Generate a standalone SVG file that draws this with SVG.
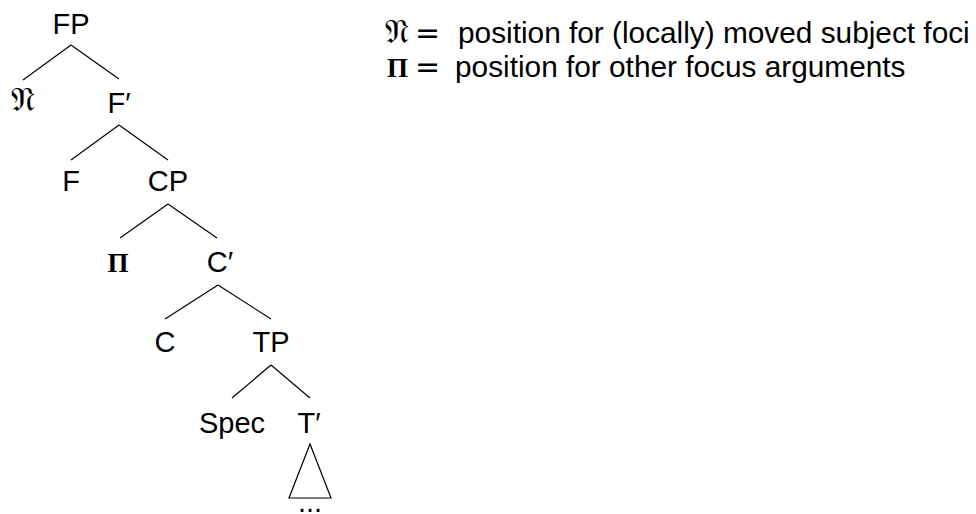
<svg xmlns="http://www.w3.org/2000/svg" width="976" height="514" viewBox="0 0 976 514">
<style>
  .n { font-family: "Liberation Sans", Arial, sans-serif; font-size: 29px; fill: #000; text-anchor: middle; }
  .t { font-family: "Liberation Sans", Arial, sans-serif; font-size: 29.8px; fill: #000; }
  .eq { font-family: "DejaVu Sans", sans-serif; font-size: 30px; fill: #000; }
  .frak { font-family: "DejaVu Serif", "DejaVu Sans", "Noto Sans", serif; font-size: 34px; fill: #000; }
  .pi { font-family: "Liberation Serif", "Times New Roman", serif; font-weight: bold; font-size: 27px; fill: #000; }
  .e { stroke: #000; stroke-width: 1.2; fill: none; }
</style>
<rect width="976" height="514" fill="#fff"/>
<g id="connectors">
  <line class="e" x1="71" y1="45" x2="23" y2="80"/>
  <line class="e" x1="71" y1="45" x2="119" y2="79"/>
  <line class="e" x1="119" y1="125" x2="71" y2="160"/>
  <line class="e" x1="119" y1="125" x2="168" y2="160"/>
  <line class="e" x1="168" y1="204" x2="120" y2="238"/>
  <line class="e" x1="168" y1="204" x2="217" y2="238"/>
  <line class="e" x1="218" y1="285" x2="165" y2="319"/>
  <line class="e" x1="218" y1="285" x2="271" y2="319"/>
  <line class="e" x1="271" y1="365" x2="232" y2="398"/>
  <line class="e" x1="271" y1="365" x2="310" y2="398"/>
  <polygon class="e" points="310,444 289,498 331,498"/>
</g>
<g id="node-FP"><text class="n" x="71" y="34">FP</text></g>
<g id="node-N"><text class="frak" x="23" y="111" text-anchor="middle">𝔑</text></g>
<g id="node-Fbar"><text class="n" x="119" y="113">F′</text></g>
<g id="node-F"><text class="n" x="71" y="191">F</text></g>
<g id="node-CP"><text class="n" x="168" y="191">CP</text></g>
<g id="node-Pi"><text class="pi" x="118" y="272" text-anchor="middle">Π</text></g>
<g id="node-Cbar"><text class="n" x="220" y="272">C′</text></g>
<g id="node-C"><text class="n" x="165" y="352">C</text></g>
<g id="node-TP"><text class="n" x="271" y="352">TP</text></g>
<g id="node-Spec"><text class="n" x="232" y="433">Spec</text></g>
<g id="node-Tbar"><text class="n" x="309" y="433">T′</text></g>
<g id="node-dots"><text class="n" x="310" y="512">...</text></g>
<g id="legend">
  <text class="frak" x="385" y="43">𝔑</text>
  <text class="eq" x="415" y="43">=</text>
  <text class="t" x="458" y="43">position for (locally) moved subject foci</text>
  <text class="pi" x="387" y="77">Π</text>
  <text class="eq" x="415" y="77">=</text>
  <text class="t" x="455" y="77">position for other focus arguments</text>
</g>
</svg>
